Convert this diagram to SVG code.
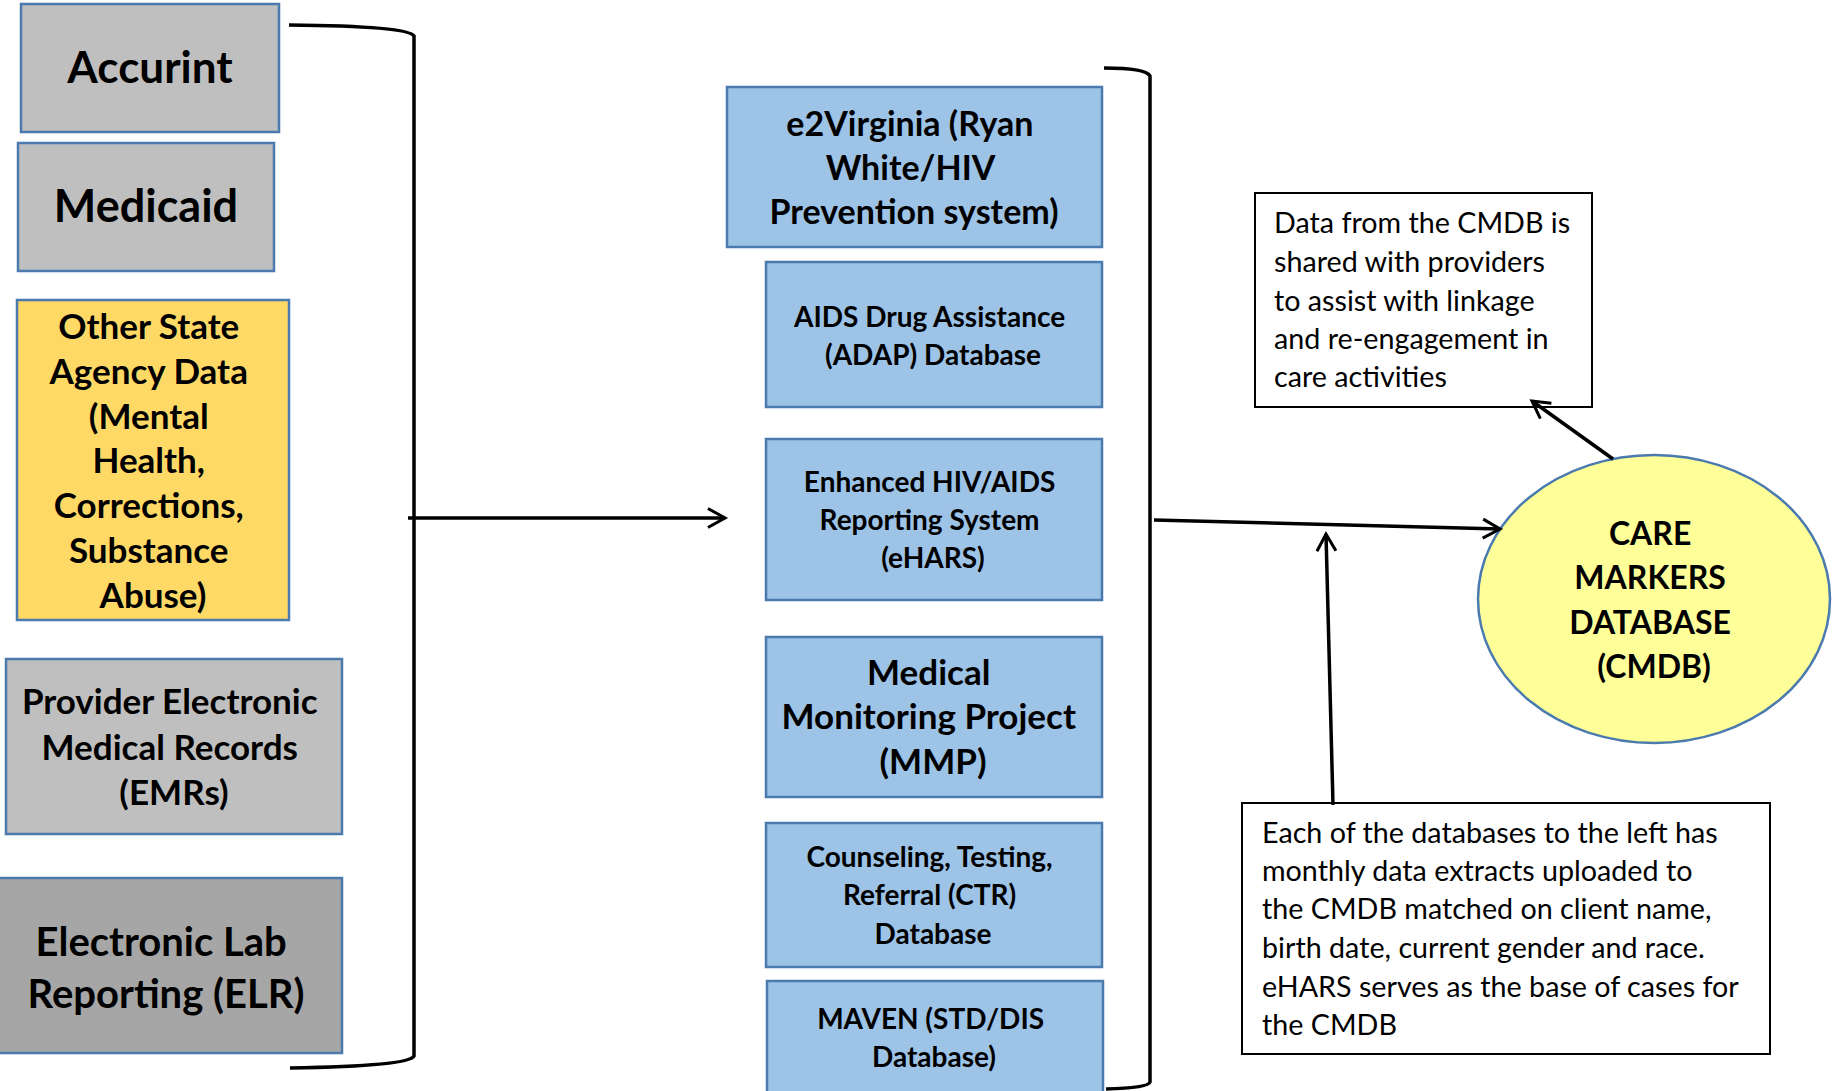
<svg xmlns="http://www.w3.org/2000/svg" width="1835" height="1091" viewBox="0 0 1835 1091">
<style>
  .box { stroke: #4A7AAE; stroke-width: 2.5; }
  .gray { fill: #BFBFBF; }
  .dgray { fill: #A6A6A6; }
  .yellow { fill: #FFD966; }
  .blue { fill: #9DC3E6; }
  .note { fill: #FFFFFF; stroke: #000000; stroke-width: 2; }
  .t { font-family: Lato, "Liberation Sans", sans-serif; font-weight: bold; fill: #000; text-anchor: middle; }
  .n { font-family: Lato, "Liberation Sans", sans-serif; font-weight: normal; fill: #000; font-size: 28.7px; }
  .c { fill: none; stroke: #000; stroke-width: 3.5; }
  .a { fill: none; stroke: #000; stroke-width: 3.5; marker-end: url(#arr); }
</style>
<defs>
  <marker id="arr" viewBox="0 0 12 12" refX="10" refY="6" markerWidth="6.5" markerHeight="6.5" orient="auto" markerUnits="strokeWidth">
    <path d="M1,1 L10,6 L1,11" fill="none" stroke="#000" stroke-width="1.6"/>
  </marker>
</defs>
<rect width="1835" height="1091" fill="#FFFFFF"/>

<g id="accurint">
  <rect class="box gray" x="21" y="4" width="258" height="128"/>
  <text class="t" x="150" y="83" font-size="44">Accurint</text>
</g>
<g id="medicaid">
  <rect class="box gray" x="18" y="143" width="256" height="128"/>
  <text class="t" x="146" y="222" font-size="45">Medicaid</text>
</g>
<g id="other-state">
  <rect class="box yellow" x="17" y="300" width="272" height="320"/>
  <text class="t" font-size="35">
    <tspan x="153" y="339">Other State</tspan>
    <tspan x="153" y="384">Agency Data</tspan>
    <tspan x="153" y="429">(Mental</tspan>
    <tspan x="153" y="473">Health,</tspan>
    <tspan x="153" y="518">Corrections,</tspan>
    <tspan x="153" y="563">Substance</tspan>
    <tspan x="153" y="608">Abuse)</tspan>
  </text>
</g>
<g id="emr">
  <rect class="box gray" x="6" y="659" width="336" height="175"/>
  <text class="t" font-size="35">
    <tspan x="174" y="714">Provider Electronic</tspan>
    <tspan x="174" y="760">Medical Records</tspan>
    <tspan x="174" y="805">(EMRs)</tspan>
  </text>
</g>
<g id="elr">
  <rect class="box dgray" x="-2" y="878" width="344" height="175"/>
  <text class="t" font-size="40">
    <tspan x="166" y="956">Electronic Lab</tspan>
    <tspan x="166" y="1008">Reporting (ELR)</tspan>
  </text>
</g>

<g id="e2virginia">
  <rect class="box blue" x="727" y="87" width="375" height="160"/>
  <text class="t" font-size="34">
    <tspan x="914" y="136">e2Virginia (Ryan</tspan>
    <tspan x="914" y="180">White/HIV</tspan>
    <tspan x="914" y="224">Prevention system)</tspan>
  </text>
</g>
<g id="adap">
  <rect class="box blue" x="766" y="262" width="336" height="145"/>
  <text class="t" font-size="28">
    <tspan x="933" y="327">AIDS Drug Assistance</tspan>
    <tspan x="933" y="365">(ADAP) Database</tspan>
  </text>
</g>
<g id="ehars">
  <rect class="box blue" x="766" y="439" width="336" height="161"/>
  <text class="t" font-size="28">
    <tspan x="933" y="492">Enhanced HIV/AIDS</tspan>
    <tspan x="933" y="530">Reporting System</tspan>
    <tspan x="933" y="568">(eHARS)</tspan>
  </text>
</g>
<g id="mmp">
  <rect class="box blue" x="766" y="637" width="336" height="160"/>
  <text class="t" font-size="35">
    <tspan x="933" y="685">Medical</tspan>
    <tspan x="933" y="729">Monitoring Project</tspan>
    <tspan x="933" y="774">(MMP)</tspan>
  </text>
</g>
<g id="ctr">
  <rect class="box blue" x="766" y="823" width="336" height="144"/>
  <text class="t" font-size="28">
    <tspan x="933" y="867">Counseling, Testing,</tspan>
    <tspan x="933" y="905">Referral (CTR)</tspan>
    <tspan x="933" y="944">Database</tspan>
  </text>
</g>
<g id="maven">
  <rect class="box blue" x="767" y="981" width="336" height="120"/>
  <text class="t" font-size="28">
    <tspan x="934" y="1029">MAVEN (STD/DIS</tspan>
    <tspan x="934" y="1067">Database)</tspan>
  </text>
</g>

<g id="cmdb">
  <ellipse cx="1654" cy="599" rx="176" ry="144" fill="#FFFF99" stroke="#4A7AAE" stroke-width="2.5"/>
  <text class="t" font-size="32">
    <tspan x="1654" y="545">CARE</tspan>
    <tspan x="1654" y="589">MARKERS</tspan>
    <tspan x="1654" y="634">DATABASE</tspan>
    <tspan x="1654" y="678">(CMDB)</tspan>
  </text>
</g>

<g id="note-share">
  <rect class="note" x="1255" y="193" width="337" height="214"/>
  <text class="n">
    <tspan x="1274" y="233">Data from the CMDB is</tspan>
    <tspan x="1274" y="272">shared with providers</tspan>
    <tspan x="1274" y="311">to assist with linkage</tspan>
    <tspan x="1274" y="349">and re-engagement in</tspan>
    <tspan x="1274" y="387">care activities</tspan>
  </text>
</g>
<g id="note-extracts">
  <rect class="note" x="1242" y="803" width="528" height="251"/>
  <text class="n">
    <tspan x="1262" y="843">Each of the databases to the left has</tspan>
    <tspan x="1262" y="881">monthly data extracts uploaded to</tspan>
    <tspan x="1262" y="919">the CMDB matched on client name,</tspan>
    <tspan x="1262" y="958">birth date, current gender and race.</tspan>
    <tspan x="1262" y="997">eHARS serves as the base of cases for</tspan>
    <tspan x="1262" y="1035">the CMDB</tspan>
  </text>
</g>

<g id="connectors">
  <path class="c" d="M289,25 Q408,26 414,36 L414,1056 Q410,1066 290,1068"/>
  <path class="c" d="M1104,68 Q1146,68 1150,76 L1150,1082 Q1148,1088 1106,1089"/>
  <path class="a" d="M408,518 L725,518"/>
  <path class="a" d="M1154,520 L1500,529"/>
  <path class="a" d="M1333,805 L1326,534"/>
  <path class="a" d="M1613,459 L1532,401"/>
</g>
</svg>
